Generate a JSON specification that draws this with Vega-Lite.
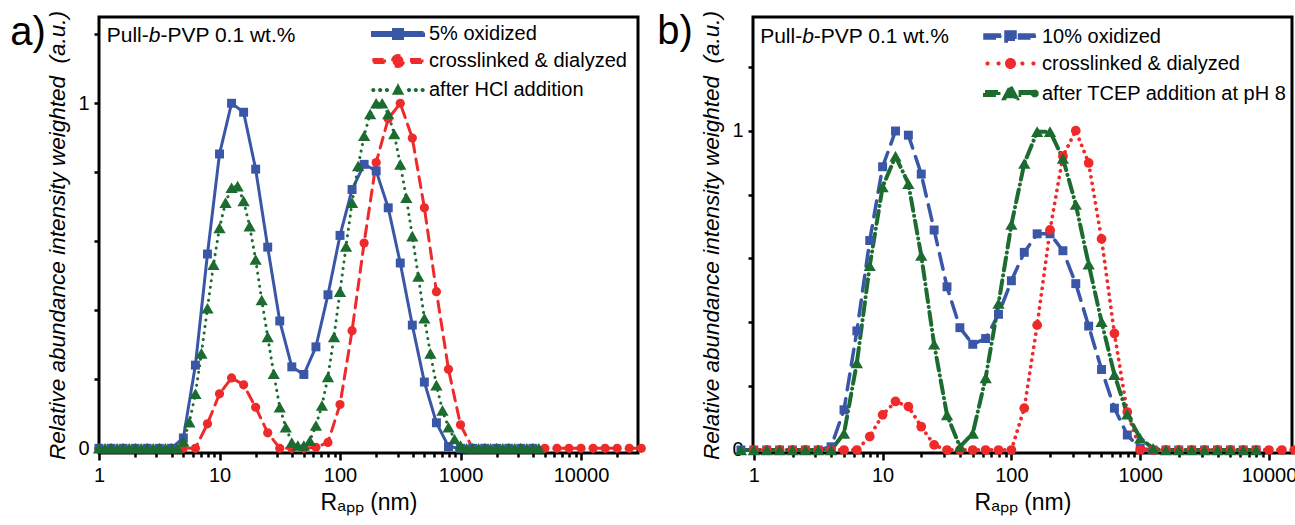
{
  "$schema": "https://vega.github.io/schema/vega-lite/v6.json",
  "background": "white",
  "padding": {"left": 8, "top": 8, "right": 0, "bottom": 0},
  "config": {
    "font": "Liberation Sans",
    "view": {"stroke": "black", "strokeWidth": 3},
    "axis": {"grid": false, "domain": false, "tickColor": "black", "tickWidth": 2.5, "labelColor": "black", "labelFont": "Liberation Sans", "labelFontSize": 20, "titleColor": "black", "titleFont": "Liberation Sans", "titleFontWeight": "normal", "labelOverlap": false, "labelFlush": false},
    "legend": {"orient": "none", "padding": 0, "labelFont": "Liberation Sans", "labelFontSize": 20, "labelColor": "black", "labelLimit": 400, "symbolSize": 289, "symbolStrokeWidth": 0, "labelOffset": 21}
  },
  "resolve": {"scale": {"color": "independent", "strokeDash": "independent", "strokeWidth": "independent"}, "legend": {"color": "independent"}},
  "bounds": "flush",
  "spacing": 115,
  "datasets": {
    "a": [
      {"series": "crosslinked & dialyzed", "R": 1, "I": 0},
      {"series": "crosslinked & dialyzed", "R": 1.259, "I": 0},
      {"series": "crosslinked & dialyzed", "R": 1.585, "I": 0},
      {"series": "crosslinked & dialyzed", "R": 1.995, "I": 0},
      {"series": "crosslinked & dialyzed", "R": 2.512, "I": 0},
      {"series": "crosslinked & dialyzed", "R": 3.162, "I": 0},
      {"series": "crosslinked & dialyzed", "R": 3.981, "I": 0},
      {"series": "crosslinked & dialyzed", "R": 5.012, "I": 0},
      {"series": "crosslinked & dialyzed", "R": 6.31, "I": 0},
      {"series": "crosslinked & dialyzed", "R": 7.943, "I": 0.071},
      {"series": "crosslinked & dialyzed", "R": 10, "I": 0.158},
      {"series": "crosslinked & dialyzed", "R": 12.59, "I": 0.204},
      {"series": "crosslinked & dialyzed", "R": 15.85, "I": 0.184},
      {"series": "crosslinked & dialyzed", "R": 19.95, "I": 0.119},
      {"series": "crosslinked & dialyzed", "R": 25.12, "I": 0.045},
      {"series": "crosslinked & dialyzed", "R": 31.62, "I": 0},
      {"series": "crosslinked & dialyzed", "R": 39.81, "I": 0},
      {"series": "crosslinked & dialyzed", "R": 50.12, "I": 0},
      {"series": "crosslinked & dialyzed", "R": 63.1, "I": 0.003},
      {"series": "crosslinked & dialyzed", "R": 79.43, "I": 0.017},
      {"series": "crosslinked & dialyzed", "R": 100, "I": 0.127},
      {"series": "crosslinked & dialyzed", "R": 125.9, "I": 0.341},
      {"series": "crosslinked & dialyzed", "R": 158.5, "I": 0.595},
      {"series": "crosslinked & dialyzed", "R": 199.5, "I": 0.828},
      {"series": "crosslinked & dialyzed", "R": 251.2, "I": 0.955},
      {"series": "crosslinked & dialyzed", "R": 316.2, "I": 1.0},
      {"series": "crosslinked & dialyzed", "R": 398.1, "I": 0.899},
      {"series": "crosslinked & dialyzed", "R": 501.2, "I": 0.697},
      {"series": "crosslinked & dialyzed", "R": 631, "I": 0.454},
      {"series": "crosslinked & dialyzed", "R": 794.3, "I": 0.229},
      {"series": "crosslinked & dialyzed", "R": 1000, "I": 0.068},
      {"series": "crosslinked & dialyzed", "R": 1259, "I": 0},
      {"series": "crosslinked & dialyzed", "R": 1585, "I": 0},
      {"series": "crosslinked & dialyzed", "R": 1995, "I": 0},
      {"series": "crosslinked & dialyzed", "R": 2512, "I": 0},
      {"series": "crosslinked & dialyzed", "R": 3162, "I": 0},
      {"series": "crosslinked & dialyzed", "R": 3981, "I": 0},
      {"series": "crosslinked & dialyzed", "R": 5012, "I": 0},
      {"series": "crosslinked & dialyzed", "R": 6310, "I": 0},
      {"series": "crosslinked & dialyzed", "R": 7943, "I": 0},
      {"series": "crosslinked & dialyzed", "R": 10000, "I": 0},
      {"series": "crosslinked & dialyzed", "R": 12590, "I": 0},
      {"series": "crosslinked & dialyzed", "R": 15850, "I": 0},
      {"series": "crosslinked & dialyzed", "R": 19950, "I": 0},
      {"series": "crosslinked & dialyzed", "R": 25120, "I": 0},
      {"series": "crosslinked & dialyzed", "R": 31620, "I": 0},
      {"series": "5% oxidized", "R": 1, "I": 0},
      {"series": "5% oxidized", "R": 1.259, "I": 0},
      {"series": "5% oxidized", "R": 1.585, "I": 0},
      {"series": "5% oxidized", "R": 1.995, "I": 0},
      {"series": "5% oxidized", "R": 2.512, "I": 0},
      {"series": "5% oxidized", "R": 3.162, "I": 0},
      {"series": "5% oxidized", "R": 3.981, "I": 0},
      {"series": "5% oxidized", "R": 5.012, "I": 0.03},
      {"series": "5% oxidized", "R": 6.31, "I": 0.241},
      {"series": "5% oxidized", "R": 7.943, "I": 0.563},
      {"series": "5% oxidized", "R": 10, "I": 0.853},
      {"series": "5% oxidized", "R": 12.59, "I": 1.0},
      {"series": "5% oxidized", "R": 15.85, "I": 0.974},
      {"series": "5% oxidized", "R": 19.95, "I": 0.809},
      {"series": "5% oxidized", "R": 25.12, "I": 0.583},
      {"series": "5% oxidized", "R": 31.62, "I": 0.369},
      {"series": "5% oxidized", "R": 39.81, "I": 0.236},
      {"series": "5% oxidized", "R": 50.12, "I": 0.214},
      {"series": "5% oxidized", "R": 63.1, "I": 0.294},
      {"series": "5% oxidized", "R": 79.43, "I": 0.445},
      {"series": "5% oxidized", "R": 100, "I": 0.617},
      {"series": "5% oxidized", "R": 125.9, "I": 0.75},
      {"series": "5% oxidized", "R": 158.5, "I": 0.823},
      {"series": "5% oxidized", "R": 199.5, "I": 0.804},
      {"series": "5% oxidized", "R": 251.2, "I": 0.697},
      {"series": "5% oxidized", "R": 316.2, "I": 0.537},
      {"series": "5% oxidized", "R": 398.1, "I": 0.357},
      {"series": "5% oxidized", "R": 501.2, "I": 0.192},
      {"series": "5% oxidized", "R": 631, "I": 0.074},
      {"series": "5% oxidized", "R": 794.3, "I": 0.005},
      {"series": "5% oxidized", "R": 1000, "I": 0},
      {"series": "5% oxidized", "R": 1259, "I": 0},
      {"series": "5% oxidized", "R": 1585, "I": 0},
      {"series": "5% oxidized", "R": 1995, "I": 0},
      {"series": "5% oxidized", "R": 2512, "I": 0},
      {"series": "5% oxidized", "R": 3162, "I": 0},
      {"series": "5% oxidized", "R": 3981, "I": 0},
      {"series": "after HCl addition", "R": 1, "I": 0},
      {"series": "after HCl addition", "R": 1.122, "I": 0},
      {"series": "after HCl addition", "R": 1.259, "I": 0},
      {"series": "after HCl addition", "R": 1.413, "I": 0},
      {"series": "after HCl addition", "R": 1.585, "I": 0},
      {"series": "after HCl addition", "R": 1.778, "I": 0},
      {"series": "after HCl addition", "R": 1.995, "I": 0},
      {"series": "after HCl addition", "R": 2.239, "I": 0},
      {"series": "after HCl addition", "R": 2.512, "I": 0},
      {"series": "after HCl addition", "R": 2.818, "I": 0},
      {"series": "after HCl addition", "R": 3.162, "I": 0},
      {"series": "after HCl addition", "R": 3.548, "I": 0},
      {"series": "after HCl addition", "R": 3.981, "I": 0},
      {"series": "after HCl addition", "R": 4.467, "I": 0},
      {"series": "after HCl addition", "R": 5.012, "I": 0.02},
      {"series": "after HCl addition", "R": 5.623, "I": 0.076},
      {"series": "after HCl addition", "R": 6.31, "I": 0.158},
      {"series": "after HCl addition", "R": 7.079, "I": 0.275},
      {"series": "after HCl addition", "R": 7.943, "I": 0.406},
      {"series": "after HCl addition", "R": 8.913, "I": 0.532},
      {"series": "after HCl addition", "R": 10, "I": 0.639},
      {"series": "after HCl addition", "R": 11.22, "I": 0.712},
      {"series": "after HCl addition", "R": 12.59, "I": 0.755},
      {"series": "after HCl addition", "R": 14.13, "I": 0.76},
      {"series": "after HCl addition", "R": 15.85, "I": 0.717},
      {"series": "after HCl addition", "R": 17.78, "I": 0.644},
      {"series": "after HCl addition", "R": 19.95, "I": 0.547},
      {"series": "after HCl addition", "R": 22.39, "I": 0.43},
      {"series": "after HCl addition", "R": 25.12, "I": 0.323},
      {"series": "after HCl addition", "R": 28.18, "I": 0.216},
      {"series": "after HCl addition", "R": 31.62, "I": 0.119},
      {"series": "after HCl addition", "R": 35.48, "I": 0.061},
      {"series": "after HCl addition", "R": 39.81, "I": 0.017},
      {"series": "after HCl addition", "R": 44.67, "I": 0.008},
      {"series": "after HCl addition", "R": 50.12, "I": 0.008},
      {"series": "after HCl addition", "R": 56.23, "I": 0.022},
      {"series": "after HCl addition", "R": 63.1, "I": 0.066},
      {"series": "after HCl addition", "R": 70.79, "I": 0.124},
      {"series": "after HCl addition", "R": 79.43, "I": 0.207},
      {"series": "after HCl addition", "R": 89.13, "I": 0.323},
      {"series": "after HCl addition", "R": 100, "I": 0.454},
      {"series": "after HCl addition", "R": 112.2, "I": 0.585},
      {"series": "after HCl addition", "R": 125.9, "I": 0.712},
      {"series": "after HCl addition", "R": 141.3, "I": 0.818},
      {"series": "after HCl addition", "R": 158.5, "I": 0.906},
      {"series": "after HCl addition", "R": 177.8, "I": 0.969},
      {"series": "after HCl addition", "R": 199.5, "I": 1.0},
      {"series": "after HCl addition", "R": 223.9, "I": 1.0},
      {"series": "after HCl addition", "R": 251.2, "I": 0.969},
      {"series": "after HCl addition", "R": 281.8, "I": 0.911},
      {"series": "after HCl addition", "R": 316.2, "I": 0.823},
      {"series": "after HCl addition", "R": 354.8, "I": 0.726},
      {"series": "after HCl addition", "R": 398.1, "I": 0.615},
      {"series": "after HCl addition", "R": 446.7, "I": 0.498},
      {"series": "after HCl addition", "R": 501.2, "I": 0.377},
      {"series": "after HCl addition", "R": 562.3, "I": 0.275},
      {"series": "after HCl addition", "R": 631, "I": 0.183},
      {"series": "after HCl addition", "R": 707.9, "I": 0.11},
      {"series": "after HCl addition", "R": 794.3, "I": 0.061},
      {"series": "after HCl addition", "R": 891.3, "I": 0.027},
      {"series": "after HCl addition", "R": 1000, "I": 0.008},
      {"series": "after HCl addition", "R": 1122, "I": 0},
      {"series": "after HCl addition", "R": 1259, "I": 0},
      {"series": "after HCl addition", "R": 1413, "I": 0},
      {"series": "after HCl addition", "R": 1585, "I": 0},
      {"series": "after HCl addition", "R": 1778, "I": 0},
      {"series": "after HCl addition", "R": 1995, "I": 0},
      {"series": "after HCl addition", "R": 2239, "I": 0},
      {"series": "after HCl addition", "R": 2512, "I": 0},
      {"series": "after HCl addition", "R": 2818, "I": 0},
      {"series": "after HCl addition", "R": 3162, "I": 0},
      {"series": "after HCl addition", "R": 3548, "I": 0},
      {"series": "after HCl addition", "R": 3981, "I": 0},
      {"series": "after HCl addition", "R": 4467, "I": 0}
    ],
    "b": [
      {"series": "10% oxidized", "R": 0.794, "I": 0},
      {"series": "10% oxidized", "R": 1, "I": 0},
      {"series": "10% oxidized", "R": 1.259, "I": 0},
      {"series": "10% oxidized", "R": 1.585, "I": 0},
      {"series": "10% oxidized", "R": 1.995, "I": 0},
      {"series": "10% oxidized", "R": 2.512, "I": 0},
      {"series": "10% oxidized", "R": 3.162, "I": 0},
      {"series": "10% oxidized", "R": 3.981, "I": 0.01},
      {"series": "10% oxidized", "R": 5.012, "I": 0.126},
      {"series": "10% oxidized", "R": 6.31, "I": 0.373},
      {"series": "10% oxidized", "R": 7.943, "I": 0.656},
      {"series": "10% oxidized", "R": 10, "I": 0.887},
      {"series": "10% oxidized", "R": 12.59, "I": 0.999},
      {"series": "10% oxidized", "R": 15.85, "I": 0.986},
      {"series": "10% oxidized", "R": 19.95, "I": 0.864},
      {"series": "10% oxidized", "R": 25.12, "I": 0.689},
      {"series": "10% oxidized", "R": 31.62, "I": 0.511},
      {"series": "10% oxidized", "R": 39.81, "I": 0.383},
      {"series": "10% oxidized", "R": 50.12, "I": 0.331},
      {"series": "10% oxidized", "R": 63.1, "I": 0.349},
      {"series": "10% oxidized", "R": 79.43, "I": 0.425},
      {"series": "10% oxidized", "R": 100, "I": 0.53},
      {"series": "10% oxidized", "R": 125.9, "I": 0.619},
      {"series": "10% oxidized", "R": 158.5, "I": 0.677},
      {"series": "10% oxidized", "R": 199.5, "I": 0.677},
      {"series": "10% oxidized", "R": 251.2, "I": 0.624},
      {"series": "10% oxidized", "R": 316.2, "I": 0.521},
      {"series": "10% oxidized", "R": 398.1, "I": 0.388},
      {"series": "10% oxidized", "R": 501.2, "I": 0.252},
      {"series": "10% oxidized", "R": 631, "I": 0.131},
      {"series": "10% oxidized", "R": 794.3, "I": 0.047},
      {"series": "10% oxidized", "R": 1000, "I": 0.005},
      {"series": "10% oxidized", "R": 1259, "I": 0},
      {"series": "10% oxidized", "R": 1585, "I": 0},
      {"series": "10% oxidized", "R": 1995, "I": 0},
      {"series": "10% oxidized", "R": 2512, "I": 0},
      {"series": "10% oxidized", "R": 3162, "I": 0},
      {"series": "10% oxidized", "R": 3981, "I": 0},
      {"series": "10% oxidized", "R": 5012, "I": 0},
      {"series": "10% oxidized", "R": 6310, "I": 0},
      {"series": "10% oxidized", "R": 7943, "I": 0},
      {"series": "crosslinked & dialyzed", "R": 1, "I": 0},
      {"series": "crosslinked & dialyzed", "R": 1.259, "I": 0},
      {"series": "crosslinked & dialyzed", "R": 1.585, "I": 0},
      {"series": "crosslinked & dialyzed", "R": 1.995, "I": 0},
      {"series": "crosslinked & dialyzed", "R": 2.512, "I": 0},
      {"series": "crosslinked & dialyzed", "R": 3.162, "I": 0},
      {"series": "crosslinked & dialyzed", "R": 3.981, "I": 0},
      {"series": "crosslinked & dialyzed", "R": 5.012, "I": 0},
      {"series": "crosslinked & dialyzed", "R": 6.31, "I": 0},
      {"series": "crosslinked & dialyzed", "R": 7.943, "I": 0.042},
      {"series": "crosslinked & dialyzed", "R": 10, "I": 0.11},
      {"series": "crosslinked & dialyzed", "R": 12.59, "I": 0.152},
      {"series": "crosslinked & dialyzed", "R": 15.85, "I": 0.136},
      {"series": "crosslinked & dialyzed", "R": 19.95, "I": 0.073},
      {"series": "crosslinked & dialyzed", "R": 25.12, "I": 0.016},
      {"series": "crosslinked & dialyzed", "R": 31.62, "I": 0},
      {"series": "crosslinked & dialyzed", "R": 39.81, "I": 0},
      {"series": "crosslinked & dialyzed", "R": 50.12, "I": 0},
      {"series": "crosslinked & dialyzed", "R": 63.1, "I": 0},
      {"series": "crosslinked & dialyzed", "R": 79.43, "I": 0},
      {"series": "crosslinked & dialyzed", "R": 100, "I": 0},
      {"series": "crosslinked & dialyzed", "R": 125.9, "I": 0.131},
      {"series": "crosslinked & dialyzed", "R": 158.5, "I": 0.391},
      {"series": "crosslinked & dialyzed", "R": 199.5, "I": 0.689},
      {"series": "crosslinked & dialyzed", "R": 251.2, "I": 0.92},
      {"series": "crosslinked & dialyzed", "R": 316.2, "I": 1.0},
      {"series": "crosslinked & dialyzed", "R": 398.1, "I": 0.899},
      {"series": "crosslinked & dialyzed", "R": 501.2, "I": 0.661},
      {"series": "crosslinked & dialyzed", "R": 631, "I": 0.365},
      {"series": "crosslinked & dialyzed", "R": 794.3, "I": 0.119},
      {"series": "crosslinked & dialyzed", "R": 1000, "I": 0},
      {"series": "crosslinked & dialyzed", "R": 1259, "I": 0},
      {"series": "crosslinked & dialyzed", "R": 1585, "I": 0},
      {"series": "crosslinked & dialyzed", "R": 1995, "I": 0},
      {"series": "crosslinked & dialyzed", "R": 2512, "I": 0},
      {"series": "crosslinked & dialyzed", "R": 3162, "I": 0},
      {"series": "crosslinked & dialyzed", "R": 3981, "I": 0},
      {"series": "crosslinked & dialyzed", "R": 5012, "I": 0},
      {"series": "crosslinked & dialyzed", "R": 6310, "I": 0},
      {"series": "crosslinked & dialyzed", "R": 7943, "I": 0},
      {"series": "crosslinked & dialyzed", "R": 10000, "I": 0},
      {"series": "crosslinked & dialyzed", "R": 12590, "I": 0},
      {"series": "crosslinked & dialyzed", "R": 15850, "I": 0},
      {"series": "after TCEP addition at pH 8", "R": 0.794, "I": 0},
      {"series": "after TCEP addition at pH 8", "R": 1, "I": 0},
      {"series": "after TCEP addition at pH 8", "R": 1.259, "I": 0},
      {"series": "after TCEP addition at pH 8", "R": 1.585, "I": 0},
      {"series": "after TCEP addition at pH 8", "R": 1.995, "I": 0},
      {"series": "after TCEP addition at pH 8", "R": 2.512, "I": 0},
      {"series": "after TCEP addition at pH 8", "R": 3.162, "I": 0},
      {"series": "after TCEP addition at pH 8", "R": 3.981, "I": 0},
      {"series": "after TCEP addition at pH 8", "R": 5.012, "I": 0.052},
      {"series": "after TCEP addition at pH 8", "R": 6.31, "I": 0.273},
      {"series": "after TCEP addition at pH 8", "R": 7.943, "I": 0.577},
      {"series": "after TCEP addition at pH 8", "R": 10, "I": 0.824},
      {"series": "after TCEP addition at pH 8", "R": 12.59, "I": 0.92},
      {"series": "after TCEP addition at pH 8", "R": 15.85, "I": 0.834},
      {"series": "after TCEP addition at pH 8", "R": 19.95, "I": 0.609},
      {"series": "after TCEP addition at pH 8", "R": 25.12, "I": 0.331},
      {"series": "after TCEP addition at pH 8", "R": 31.62, "I": 0.11},
      {"series": "after TCEP addition at pH 8", "R": 39.81, "I": 0.01},
      {"series": "after TCEP addition at pH 8", "R": 50.12, "I": 0.052},
      {"series": "after TCEP addition at pH 8", "R": 63.1, "I": 0.226},
      {"series": "after TCEP addition at pH 8", "R": 79.43, "I": 0.459},
      {"series": "after TCEP addition at pH 8", "R": 100, "I": 0.706},
      {"series": "after TCEP addition at pH 8", "R": 125.9, "I": 0.897},
      {"series": "after TCEP addition at pH 8", "R": 158.5, "I": 0.997},
      {"series": "after TCEP addition at pH 8", "R": 199.5, "I": 0.997},
      {"series": "after TCEP addition at pH 8", "R": 251.2, "I": 0.913},
      {"series": "after TCEP addition at pH 8", "R": 316.2, "I": 0.769},
      {"series": "after TCEP addition at pH 8", "R": 398.1, "I": 0.582},
      {"series": "after TCEP addition at pH 8", "R": 501.2, "I": 0.402},
      {"series": "after TCEP addition at pH 8", "R": 631, "I": 0.236},
      {"series": "after TCEP addition at pH 8", "R": 794.3, "I": 0.112},
      {"series": "after TCEP addition at pH 8", "R": 1000, "I": 0.037},
      {"series": "after TCEP addition at pH 8", "R": 1259, "I": 0.005},
      {"series": "after TCEP addition at pH 8", "R": 1585, "I": 0},
      {"series": "after TCEP addition at pH 8", "R": 1995, "I": 0},
      {"series": "after TCEP addition at pH 8", "R": 2512, "I": 0},
      {"series": "after TCEP addition at pH 8", "R": 3162, "I": 0},
      {"series": "after TCEP addition at pH 8", "R": 3981, "I": 0},
      {"series": "after TCEP addition at pH 8", "R": 5012, "I": 0},
      {"series": "after TCEP addition at pH 8", "R": 6310, "I": 0},
      {"series": "after TCEP addition at pH 8", "R": 7943, "I": 0}
    ]
  },
  "hconcat": [
    {
      "width": 539,
      "height": 436,
      "layer": [
        {
          "data": {"name": "a"},
          "mark": {"type": "line", "strokeCap": "round"},
          "encoding": {
            "x": {"field": "R", "type": "quantitative", "scale": {"type": "log", "domain": [1, 29700], "nice": false}, "title": "Rₐₚₚ (nm)",
              "axis": {"values": [1,2,3,4,5,6,7,8,9,10,20,30,40,50,60,70,80,90,100,200,300,400,500,600,700,800,900,1000,2000,3000,4000,5000,6000,7000,8000,9000,10000,20000],
                "labelExpr": "indexof([1,10,100,1000,10000], datum.value) >= 0 ? format(datum.value, 'd') : ''",
                "tickSize": {"condition": {"test": "indexof([1,10,100,1000,10000], datum.value) >= 0", "value": 7}, "value": 4},
                "labelPadding": 5, "titleFontSize": 23, "titlePadding": 6}},
            "y": {"field": "I", "type": "quantitative", "scale": {"domain": [-0.0136, 1.25], "nice": false, "zero": false}, "title": "Relative abundance intensity weighted \u00a0(a.u.)",
              "axis": {"values": [0,0.1,0.2,0.3,0.4,0.5,0.6,0.7,0.8,0.9,1,1.1,1.2],
                "labelExpr": "datum.value === 0 ? '0' : datum.value === 1 ? '1' : ''",
                "tickSize": 5, "labelPadding": 5, "titleFontSize": 22.5, "titleFontStyle": "italic", "titlePadding": 8}},
            "color": {"field": "series", "type": "nominal",
              "scale": {"domain": ["5% oxidized", "crosslinked & dialyzed", "after HCl addition"], "range": ["#3a56a6", "#ee2a2a", "#1c6b30"]},
              "legend": {"title": null, "legendX": 289, "legendY": 7, "rowPadding": 4,
                "encode": {"symbols": {"update": {
                  "shape": {"signal": "datum.value === '5% oxidized' ? 'M-3,-0.18H3V0.18H-3ZM-0.53,-0.53H0.53V0.53H-0.53Z' : datum.value === 'after HCl addition' ? 'M-3.14,0A0.24,0.24,0,1,1,-2.66,0A0.24,0.24,0,1,1,-3.14,0ZM-2.34,0A0.24,0.24,0,1,1,-1.86,0A0.24,0.24,0,1,1,-2.34,0ZM-1.54,0A0.24,0.24,0,1,1,-1.06,0A0.24,0.24,0,1,1,-1.54,0ZM1.06,0A0.24,0.24,0,1,1,1.54,0A0.24,0.24,0,1,1,1.06,0ZM1.86,0A0.24,0.24,0,1,1,2.34,0A0.24,0.24,0,1,1,1.86,0ZM2.66,0A0.24,0.24,0,1,1,3.14,0A0.24,0.24,0,1,1,2.66,0ZM0,-0.78L0.72,0.55H-0.72Z' : 'M-3,-0.18H-1.41V0.18H-3ZM1.41,-0.18H3V0.18H1.41ZM-0.65,0A0.65,0.65,0,1,1,0.65,0A0.65,0.65,0,1,1,-0.65,0Z'"},
                  "fill": {"signal": "datum.value === '5% oxidized' ? '#3a56a6' : datum.value === 'after HCl addition' ? '#1c6b30' : '#ee2a2a'"},
                  "fillOpacity": {"value": 1},
                  "strokeWidth": {"value": 0},
                  "size": {"value": 289},
                  "opacity": {"value": 1}
                }}}}},
            "strokeDash": {"field": "series", "type": "nominal",
              "scale": {"domain": ["5% oxidized", "crosslinked & dialyzed", "after HCl addition"], "range": [[1, 0], [11, 7], [0.1, 6.5]]},
              "legend": null},
            "strokeWidth": {"field": "series", "type": "nominal",
              "scale": {"domain": ["5% oxidized", "crosslinked & dialyzed", "after HCl addition"], "range": [3, 3, 4]},
              "legend": null}
          }
        },
        {
          "data": {"name": "a"},
          "transform": [{"filter": "datum.series === 'crosslinked & dialyzed'"}],
          "mark": {"type": "point", "filled": true, "opacity": 1, "shape": "circle", "size": 85, "color": "#ee2a2a"},
          "encoding": {"x": {"field": "R", "type": "quantitative"}, "y": {"field": "I", "type": "quantitative"}}
        },
        {
          "data": {"name": "a"},
          "transform": [{"filter": "datum.series === '5% oxidized'"}],
          "mark": {"type": "point", "filled": true, "opacity": 1, "shape": "square", "size": 80, "color": "#3a56a6"},
          "encoding": {"x": {"field": "R", "type": "quantitative"}, "y": {"field": "I", "type": "quantitative"}}
        },
        {
          "data": {"name": "a"},
          "transform": [{"filter": "datum.series === 'after HCl addition'"}],
          "mark": {"type": "point", "filled": true, "opacity": 1, "shape": "triangle-up", "size": 150, "color": "#1c6b30"},
          "encoding": {"x": {"field": "R", "type": "quantitative"}, "y": {"field": "I", "type": "quantitative"}}
        },
        {
          "data": {"values": [{}]},
          "mark": {"type": "text", "text": "a)", "align": "left", "baseline": "alphabetic", "fontSize": 40, "color": "black"},
          "encoding": {"x": {"datum": 0.1833, "type": "quantitative"}, "y": {"datum": 1.169, "type": "quantitative"}}
        },
        {
          "data": {"values": [{}]},
          "mark": {"type": "text", "text": "Pull-", "align": "left", "baseline": "alphabetic", "fontSize": 21, "color": "black"},
          "encoding": {"x": {"datum": 1.159, "type": "quantitative"}, "y": {"datum": 1.178, "type": "quantitative"}}
        },
        {
          "data": {"values": [{}]},
          "mark": {"type": "text", "text": "b", "align": "left", "baseline": "alphabetic", "fontSize": 21, "fontStyle": "italic", "color": "black"},
          "encoding": {"x": {"datum": 2.585, "type": "quantitative"}, "y": {"datum": 1.178, "type": "quantitative"}}
        },
        {
          "data": {"values": [{}]},
          "mark": {"type": "text", "text": "-PVP 0.1 wt.%", "align": "left", "baseline": "alphabetic", "fontSize": 21, "color": "black"},
          "encoding": {"x": {"datum": 3.233, "type": "quantitative"}, "y": {"datum": 1.178, "type": "quantitative"}}
        }
      ]
    },
    {
      "width": 539,
      "height": 436,
      "layer": [
        {
          "data": {"name": "b"},
          "mark": {"type": "line", "strokeCap": "round"},
          "encoding": {
            "x": {"field": "R", "type": "quantitative", "scale": {"type": "log", "domain": [0.985, 15100], "nice": false}, "title": "Rₐₚₚ (nm)",
              "axis": {"values": [1,2,3,4,5,6,7,8,9,10,20,30,40,50,60,70,80,90,100,200,300,400,500,600,700,800,900,1000,2000,3000,4000,5000,6000,7000,8000,9000,10000],
                "labelExpr": "indexof([1,10,100,1000,10000], datum.value) >= 0 ? format(datum.value, 'd') : ''",
                "tickSize": {"condition": {"test": "indexof([1,10,100,1000,10000], datum.value) >= 0", "value": 7}, "value": 4},
                "labelPadding": 5, "titleFontSize": 23, "titlePadding": 6}},
            "y": {"field": "I", "type": "quantitative", "scale": {"domain": [-0.0094, 1.356], "nice": false, "zero": false}, "title": "Relative abundance intensity weighted \u00a0(a.u.)",
              "axis": {"values": [0,0.1,0.2,0.3,0.4,0.5,0.6,0.7,0.8,0.9,1,1.1,1.2,1.3],
                "labelExpr": "datum.value === 0 ? '0' : datum.value === 1 ? '1' : ''",
                "tickSize": 5, "labelPadding": 5, "titleFontSize": 22.5, "titleFontStyle": "italic", "titlePadding": 8}},
            "color": {"field": "series", "type": "nominal",
              "scale": {"domain": ["10% oxidized", "crosslinked & dialyzed", "after TCEP addition at pH 8"], "range": ["#3a56a6", "#ee2a2a", "#1c6b30"]},
              "legend": {"title": null, "legendX": 247, "legendY": 9, "rowPadding": 1,
                "encode": {"symbols": {"update": {
                  "shape": {"signal": "datum.value === '10% oxidized' ? 'M-3,-0.18H-1.06V0.18H-3ZM1.06,-0.18H3V0.18H1.06ZM-0.53,-0.53H0.53V0.53H-0.53Z' : datum.value === 'after TCEP addition at pH 8' ? 'M-3,-0.18H-1.18V0.18H-3ZM1.18,-0.18H2.4V0.18H1.18ZM2.63,-0.1L2.75,-0.22H2.95L3.07,-0.1V0.1L2.95,0.22H2.75L2.63,0.1ZM0,-0.78L0.72,0.55H-0.72Z' : 'M-2.94,-0.1L-2.8,-0.24H-2.6L-2.46,-0.1V0.1L-2.6,0.24H-2.8L-2.94,0.1ZM-1.64,-0.1L-1.5,-0.24H-1.3L-1.16,-0.1V0.1L-1.3,0.24H-1.5L-1.64,0.1ZM1.16,-0.1L1.3,-0.24H1.5L1.64,-0.1V0.1L1.5,0.24H1.3L1.16,0.1ZM2.46,-0.1L2.6,-0.24H2.8L2.94,-0.1V0.1L2.8,0.24H2.6L2.46,0.1ZM-0.65,0A0.65,0.65,0,1,1,0.65,0A0.65,0.65,0,1,1,-0.65,0Z'"},
                  "fill": {"signal": "datum.value === '10% oxidized' ? '#3a56a6' : datum.value === 'after TCEP addition at pH 8' ? '#1c6b30' : '#ee2a2a'"},
                  "fillOpacity": {"value": 1},
                  "strokeWidth": {"value": 0},
                  "size": {"value": 289},
                  "opacity": {"value": 1}
                }}}}},
            "strokeDash": {"field": "series", "type": "nominal",
              "scale": {"domain": ["10% oxidized", "crosslinked & dialyzed", "after TCEP addition at pH 8"], "range": [[16, 9], [0.1, 6.5], [13, 5, 0.1, 5]]},
              "legend": null},
            "strokeWidth": {"field": "series", "type": "nominal",
              "scale": {"domain": ["10% oxidized", "crosslinked & dialyzed", "after TCEP addition at pH 8"], "range": [3.5, 4, 3.5]},
              "legend": null}
          }
        },
        {
          "data": {"name": "b"},
          "transform": [{"filter": "datum.series === '10% oxidized'"}],
          "mark": {"type": "point", "filled": true, "opacity": 1, "shape": "square", "size": 80, "color": "#3a56a6"},
          "encoding": {"x": {"field": "R", "type": "quantitative"}, "y": {"field": "I", "type": "quantitative"}}
        },
        {
          "data": {"name": "b"},
          "transform": [{"filter": "datum.series === 'crosslinked & dialyzed'"}],
          "mark": {"type": "point", "filled": true, "opacity": 1, "shape": "circle", "size": 95, "color": "#ee2a2a"},
          "encoding": {"x": {"field": "R", "type": "quantitative"}, "y": {"field": "I", "type": "quantitative"}}
        },
        {
          "data": {"name": "b"},
          "transform": [{"filter": "datum.series === 'after TCEP addition at pH 8'"}],
          "mark": {"type": "point", "filled": true, "opacity": 1, "shape": "triangle-up", "size": 150, "color": "#1c6b30"},
          "encoding": {"x": {"field": "R", "type": "quantitative"}, "y": {"field": "I", "type": "quantitative"}}
        },
        {
          "data": {"values": [{}]},
          "mark": {"type": "text", "text": "b)", "align": "left", "baseline": "alphabetic", "fontSize": 40, "color": "black"},
          "encoding": {"x": {"datum": 0.1775, "type": "quantitative"}, "y": {"datum": 1.273, "type": "quantitative"}}
        },
        {
          "data": {"values": [{}]},
          "mark": {"type": "text", "text": "Pull-", "align": "left", "baseline": "alphabetic", "fontSize": 21, "color": "black"},
          "encoding": {"x": {"datum": 1.119, "type": "quantitative"}, "y": {"datum": 1.2756, "type": "quantitative"}}
        },
        {
          "data": {"values": [{}]},
          "mark": {"type": "text", "text": "b", "align": "left", "baseline": "alphabetic", "fontSize": 21, "fontStyle": "italic", "color": "black"},
          "encoding": {"x": {"datum": 2.371, "type": "quantitative"}, "y": {"datum": 1.2756, "type": "quantitative"}}
        },
        {
          "data": {"values": [{}]},
          "mark": {"type": "text", "text": "-PVP 0.1 wt.%", "align": "left", "baseline": "alphabetic", "fontSize": 21, "color": "black"},
          "encoding": {"x": {"datum": 2.923, "type": "quantitative"}, "y": {"datum": 1.2756, "type": "quantitative"}}
        }
      ]
    }
  ]
}
